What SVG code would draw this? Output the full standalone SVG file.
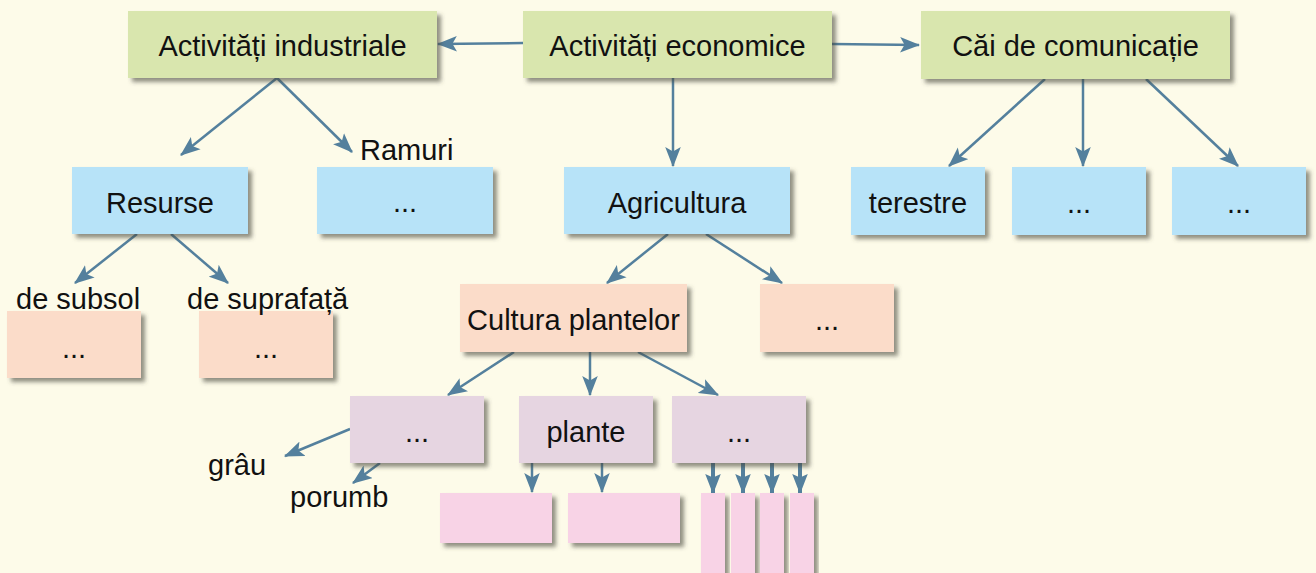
<svg xmlns="http://www.w3.org/2000/svg" width="1316" height="573" viewBox="0 0 1316 573">
<style>
text{font-family:"Liberation Sans",Arial,sans-serif;font-size:29px;fill:#111}
.c{text-anchor:middle}
.green{fill:#D9E6AE}
.blue{fill:#B7E3F8}
.peach{fill:#FBDCC9}
.lilac{fill:#E6D5E1}
.pink{fill:#F8D3E6}
.box{filter:url(#sh)}
.ln{stroke:#54809D;stroke-width:2.5;fill:none;marker-end:url(#ah)}
.lt{stroke:#54809D;stroke-width:4;fill:none;marker-end:url(#ah2)}
</style>
<defs>
<filter id="sh" x="-10%" y="-10%" width="130%" height="140%">
<feDropShadow dx="4" dy="4" stdDeviation="2.2" flood-color="#4a4a3a" flood-opacity="0.6"/>
</filter>
<marker id="ah" markerUnits="userSpaceOnUse" markerWidth="20" markerHeight="16" viewBox="0 0 18 14" refX="17" refY="7" orient="auto">
<path d="M0,0 L18,7 L0,14 L4,7 z" fill="#54809D"/>
</marker>
<marker id="ah2" markerUnits="userSpaceOnUse" markerWidth="20" markerHeight="16" viewBox="0 0 18 14" refX="17" refY="7" orient="auto">
<path d="M0,0 L18,7 L0,14 L3,7 z" fill="#54809D"/>
</marker>
</defs>
<rect width="1316" height="573" fill="#FDFBE9"/>

<g id="connectors">
<line class="ln" x1="523" y1="43" x2="438" y2="44"/>
<line class="ln" x1="832" y1="44" x2="919" y2="45"/>
<line class="ln" x1="673" y1="78" x2="673" y2="166"/>
<line class="ln" x1="277" y1="78" x2="181" y2="155"/>
<line class="ln" x1="277" y1="78" x2="352" y2="152"/>
<line class="ln" x1="1045" y1="79" x2="949" y2="166"/>
<line class="ln" x1="1083" y1="79" x2="1083" y2="166"/>
<line class="ln" x1="1146" y1="79" x2="1238" y2="166"/>
<line class="ln" x1="137" y1="234" x2="75" y2="283"/>
<line class="ln" x1="171" y1="234" x2="228" y2="283"/>
<line class="ln" x1="668" y1="234" x2="607" y2="283"/>
<line class="ln" x1="706" y1="234" x2="782" y2="283"/>
<line class="ln" x1="514" y1="352" x2="448" y2="395"/>
<line class="ln" x1="590" y1="352" x2="590" y2="395"/>
<line class="ln" x1="638" y1="352" x2="718" y2="395"/>
<line class="ln" x1="350" y1="429" x2="285" y2="456"/>
<line class="ln" x1="380" y1="463" x2="353" y2="483"/>
<line class="ln" x1="532" y1="463" x2="532" y2="492"/>
<line class="ln" x1="602" y1="463" x2="602" y2="492"/>
<line class="lt" x1="713" y1="463" x2="713" y2="493"/>
<line class="lt" x1="743" y1="463" x2="743" y2="493"/>
<line class="lt" x1="772" y1="463" x2="772" y2="493"/>
<line class="lt" x1="800" y1="463" x2="800" y2="493"/>
</g>

<g id="n-industriale"><rect class="box green" x="128" y="11" width="309" height="67"/><text class="c" x="282.5" y="56">Activități industriale</text></g>
<g id="n-economice"><rect class="box green" x="523" y="11" width="309" height="67"/><text class="c" x="677.5" y="56">Activități economice</text></g>
<g id="n-comunicatie"><rect class="box green" x="921" y="11" width="309" height="68"/><text class="c" x="1075.5" y="56">Căi de comunicație</text></g>

<g id="n-resurse"><rect class="box blue" x="72" y="167" width="176" height="67"/><text class="c" x="160" y="213">Resurse</text></g>
<g id="n-ramuri"><rect class="box blue" x="317" y="167" width="176" height="67"/><text x="360" y="160">Ramuri</text><text class="c" x="405" y="212">...</text></g>
<g id="n-agricultura"><rect class="box blue" x="564" y="167" width="226" height="67"/><text class="c" x="677" y="213">Agricultura</text></g>
<g id="n-terestre"><rect class="box blue" x="851" y="167" width="134" height="68"/><text class="c" x="918" y="213">terestre</text></g>
<g id="n-cai2"><rect class="box blue" x="1012" y="167" width="134" height="68"/><text class="c" x="1079" y="213">...</text></g>
<g id="n-cai3"><rect class="box blue" x="1172" y="167" width="134" height="68"/><text class="c" x="1239" y="213">...</text></g>

<g id="n-subsol"><rect class="box peach" x="7" y="311" width="134" height="67"/><text x="16" y="309">de subsol</text><text class="c" x="74" y="358">...</text></g>
<g id="n-suprafata"><rect class="box peach" x="199" y="311" width="134" height="67"/><text x="187" y="309">de suprafață</text><text class="c" x="266" y="358">...</text></g>
<g id="n-cultura"><rect class="box peach" x="460" y="284" width="227" height="68"/><text class="c" x="573.5" y="330">Cultura plantelor</text></g>
<g id="n-agri2"><rect class="box peach" x="760" y="284" width="134" height="68"/><text class="c" x="827" y="330">...</text></g>

<g id="n-cereale"><rect class="box lilac" x="350" y="396" width="134" height="67"/><text class="c" x="417" y="442">...</text></g>
<g id="n-grau"><text x="208" y="475">grâu</text></g>
<g id="n-porumb"><text x="290" y="507">porumb</text></g>
<g id="n-plante"><rect class="box lilac" x="519" y="396" width="134" height="67"/><text class="c" x="586" y="442">plante</text></g>
<g id="n-lilac3"><rect class="box lilac" x="672" y="396" width="134" height="67"/><text class="c" x="739" y="442">...</text></g>

<g id="n-p1"><rect class="box pink" x="440" y="493" width="112" height="50"/></g>
<g id="n-p2"><rect class="box pink" x="568" y="493" width="112" height="50"/></g>
<g id="n-t1"><rect class="box pink" x="701" y="493" width="24" height="90"/></g>
<g id="n-t2"><rect class="box pink" x="731" y="493" width="24" height="90"/></g>
<g id="n-t3"><rect class="box pink" x="760" y="493" width="24" height="90"/></g>
<g id="n-t4"><rect class="box pink" x="790" y="493" width="24" height="90"/></g>
</svg>
